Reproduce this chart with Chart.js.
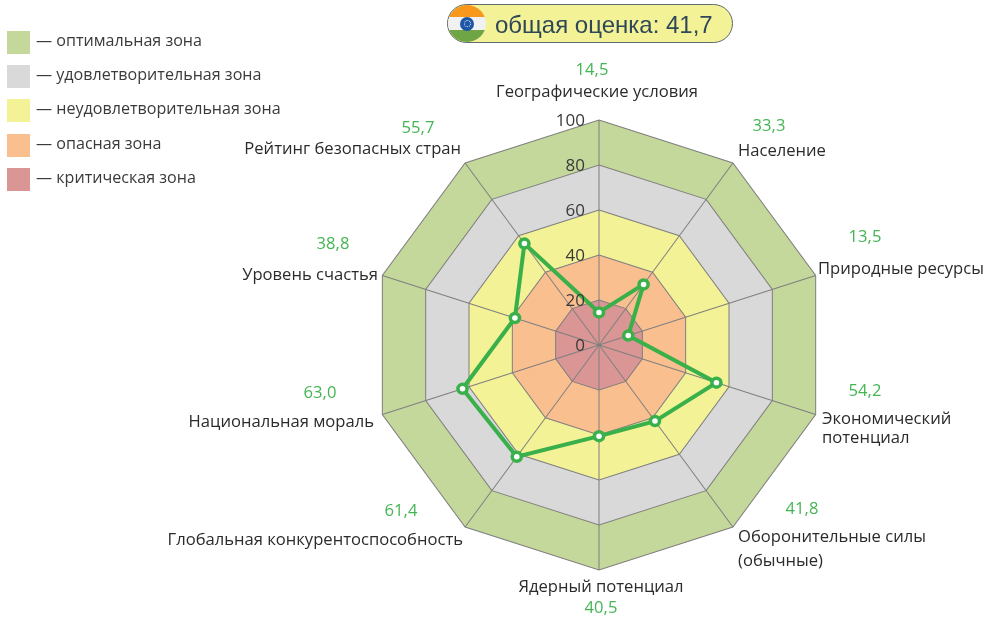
<!DOCTYPE html>
<html lang="ru">
<head>
<meta charset="utf-8">
<title>Индия</title>
<script src="https://cdn.jsdelivr.net/npm/chart.js@4"></script>
<style>
html, body { margin: 0; padding: 0; background: #fff; }
#wrap { position: relative; width: 992px; height: 618px; overflow: hidden; }
#radar { position: absolute; left: 0; top: 0; }
.swatch { position: absolute; left: 7px; width: 23px; height: 23px; }
.zone { position: absolute; left: 36px; font: 16.1px "Open Sans", sans-serif; color: #3a3a3a; white-space: nowrap; line-height: 23px; }
#pill { position: absolute; left: 447px; top: 4px; width: 284px; height: 37px; border: 1px solid #5f6b6d; border-radius: 20px; background: #f3f297; }
#pill span { position: absolute; left: 47px; top: 0; font: 24px/39px "Liberation Sans", sans-serif; color: #2f4858; white-space: nowrap; }
#flag { position: absolute; left: 0; top: 0; width: 38px; height: 37px; border-radius: 50%; overflow: hidden; }
#flag i { display: block; height: 12.33px; }
#wheel { position: absolute; left: 12px; top: 11.5px; width: 14px; height: 14px; border-radius: 50%; background: #1f57a8; }
#wheel b { position: absolute; left: 3.5px; top: 3.5px; width: 7px; height: 7px; box-sizing: border-box; border: 1.5px dotted #dfe6f2; border-radius: 50%; }
</style>
</head>
<body>
<div id="wrap">
  <canvas id="radar" width="992" height="618"></canvas>
  <div id="pill">
    <div id="flag"><i style="background:#f7981d"></i><i style="background:#f1f1f1"></i><i style="background:#6fa544"></i><div id="wheel"><b></b></div></div>
    <span id="pillText"></span>
  </div>
</div>
<script>
var overallScore = '41,7';
var categories = [
    ['Географические условия'],
    ['Население'],
    ['Природные ресурсы'],
    ['Экономический', 'потенциал'],
    ['Оборонительные силы', '(обычные)'],
    ['Ядерный потенциал'],
    ['Глобальная конкурентоспособность'],
    ['Национальная мораль'],
    ['Уровень счастья'],
    ['Рейтинг безопасных стран']
];
var scores = [14.5, 33.3, 13.5, 54.2, 41.8, 40.5, 61.4, 63.0, 38.8, 55.7];
var zoneNames = ['оптимальная зона', 'удовлетворительная зона', 'неудовлетворительная зона', 'опасная зона', 'критическая зона'];
var zoneLimits = [100, 80, 60, 40, 20];
var zoneColors = ['#c5d89b', '#d9d9d9', '#f3f297', '#fabf8f', '#d99694'];
var tickValues = [0, 20, 40, 60, 80, 100];

// where the texts round the polygon sit: [x, y of first line, align]
var nameSpots = [[597, 92, 'center'], [738, 151, 'left'], [818, 269, 'left'], [822, 419, 'left'], [738, 537, 'left'],
    [601, 587, 'center'], [463, 540, 'right'], [374, 422, 'right'], [378, 275, 'right'], [461, 149, 'right']];
var scoreSpots = [[592, 70], [769, 126], [865, 237], [865, 391], [802, 509], [601, 608], [401, 511], [320, 393], [333, 244], [418, 128]];
var nameLineGap = [0, 0, 0, 19, 24, 0, 0, 0, 0, 0];

document.getElementById('pillText').textContent = 'общая оценка: ' + overallScore;

//Legend on the left
var wrap = document.getElementById('wrap');
zoneNames.forEach(function(name, i){
    var top = 31 + i * 34.2;
    var box = document.createElement('div');
    box.className = 'swatch';
    box.style.top = top + 'px';
    box.style.background = zoneColors[i];
    wrap.appendChild(box);
    var txt = document.createElement('div');
    txt.className = 'zone';
    txt.style.top = (top - 2) + 'px';
    txt.textContent = '— ' + name;
    wrap.appendChild(txt);
});

var radarTexts = {
    id: 'radarTexts',
    //The polygon in the picture is a little wider than tall
    beforeRender: function(chart) {
        var ctx = chart.ctx;
        var cx = chart.scales.r.xCenter;
        ctx.save();
        ctx.translate(cx, 0);
        ctx.scale(1.0125, 1);
        ctx.translate(-cx, 0);
    },
    afterDraw: function(chart) {
        var ctx = chart.ctx;
        var scale = chart.scales.r;
        ctx.restore();
        ctx.save();
        ctx.textBaseline = 'middle';

        //Tick numbers, to the left of the top spoke
        ctx.font = '17px "Open Sans", sans-serif';
        ctx.fillStyle = '#3a3a3a';
        ctx.textAlign = 'right';
        tickValues.forEach(function(v){
            var p = scale.getPointPositionForValue(0, v);
            ctx.fillText(String(v), p.x - 14, p.y + 1);
        });

        ctx.font = '16.6px "Open Sans", sans-serif';
        categories.forEach(function(lines, i){
            ctx.fillStyle = '#2b2b2b';
            ctx.textAlign = nameSpots[i][2];
            lines.forEach(function(line, n){
                ctx.fillText(line, nameSpots[i][0], nameSpots[i][1] + n * nameLineGap[i]);
            });
            ctx.fillStyle = '#45b553';
            ctx.textAlign = 'center';
            ctx.fillText(scores[i].toFixed(1).replace('.', ','), scoreSpots[i][0], scoreSpots[i][1]);
        });
        ctx.restore();
    }
};

var datasets = [{
    label: 'общая оценка',
    data: scores,
    fill: false,
    borderColor: '#39b04a',
    borderWidth: 4,
    pointRadius: 4.5,
    pointBorderWidth: 3.5,
    pointBackgroundColor: '#fff',
    pointBorderColor: '#39b04a',
    tension: 0
}];
// smallest zone first, the library paints the first dataset on top
for (var z = zoneLimits.length - 1; z >= 0; z--) {
    datasets.push({
        label: zoneNames[z],
        data: categories.map(function(){ return zoneLimits[z]; }),
        fill: 'start',
        backgroundColor: zoneColors[z],
        borderWidth: 0,
        pointRadius: 0
    });
}

new Chart(document.getElementById('radar'), {
    type: 'radar',
    data: { labels: categories.map(function(c){ return c.join(' '); }), datasets: datasets },
    plugins: [radarTexts],
    options: {
        responsive: false,
        animation: false,
        events: [],
        layout: { padding: { left: 374, right: 168, top: 120, bottom: 48 } },
        plugins: {
            legend: { display: false },
            tooltip: { enabled: false },
            filler: { drawTime: 'beforeDraw' }
        },
        scales: {
            r: {
                min: 0,
                max: 100,
                ticks: { stepSize: 20, display: false },
                grid: { color: '#7f7f7f', lineWidth: 1 },
                angleLines: { color: '#7f7f7f', lineWidth: 1 },
                pointLabels: { display: false }
            }
        }
    }
});
</script>
</body>
</html>
